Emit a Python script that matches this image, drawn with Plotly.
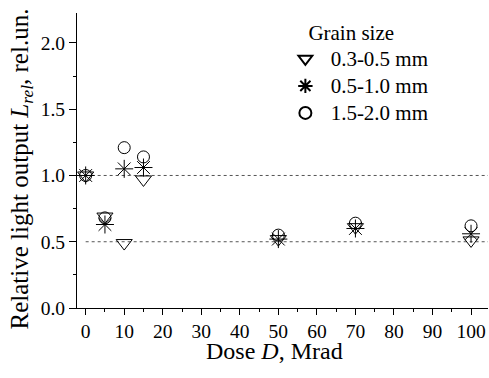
import plotly.graph_objects as go

# Data
dose = [0, 5, 10, 15, 50, 70, 100]
series_names = ["0.3-0.5 mm", "0.5-1.0 mm", "1.5-2.0 mm"]
lrel_03_05 = [1.00, 0.69, 0.49, 0.97, 0.52, 0.61, 0.51]
lrel_05_10 = [1.00, 0.63, 1.05, 1.06, 0.52, 0.60, 0.56]
lrel_15_20 = [1.00, 0.68, 1.21, 1.14, 0.55, 0.64, 0.62]
ref_levels = [1.0, 0.5]
x_ticks = [0, 10, 20, 30, 40, 50, 60, 70, 80, 90, 100]
y_ticks = [0.0, 0.5, 1.0, 1.5, 2.0]

FONT = "Liberation Serif, Times New Roman, serif"

fig = go.Figure()

symbols = ["triangle-down-open", "asterisk-open", "circle-open"]
sizes = [14, 15, 12]
for name, vals, sym, sz in zip(series_names, [lrel_03_05, lrel_05_10, lrel_15_20], symbols, sizes):
    fig.add_trace(go.Scatter(
        x=dose, y=vals, mode="markers",
        name=f'<span style="font-size:21px"> {name}</span>',
        marker=dict(symbol=sym, size=sz, color="black",
                    line=dict(color="black", width=1)),
    ))

for lvl in ref_levels:
    fig.add_shape(type="line", xref="x", yref="y", x0=0, x1=104.4, y0=lvl, y1=lvl,
                  line=dict(color="#555555", width=1, dash="dot"), layer="below")

fig.add_annotation(text="Dose <i>D</i>, Mrad", xref="paper", yref="paper",
                   x=0.4805, y=-0.146, xanchor="center", yanchor="middle", showarrow=False,
                   font=dict(family=FONT, size=24, color="black"))
fig.add_annotation(text="Relative light output <i>L</i><sub><i>rel</i></sub>, rel.un.",
                   xref="paper", yref="paper", x=-0.136, y=0.47, textangle=-90,
                   xanchor="center", yanchor="middle", showarrow=False,
                   font=dict(family=FONT, size=25, color="black"))

fig.update_layout(
    width=489, height=378,
    margin=dict(l=77, r=1, t=13, b=70),
    paper_bgcolor="white", plot_bgcolor="white",
    font=dict(family=FONT, size=18, color="black"),
    showlegend=True,
    legend=dict(
        x=0.507, y=1.0, xanchor="left", yanchor="top",
        bgcolor="rgba(0,0,0,0)", borderwidth=0,
        font=dict(family=FONT, size=18.5, color="black"),
        title=dict(text="    Grain size", font=dict(family=FONT, size=21, color="black"), side="top"),
        itemsizing="constant", tracegroupgap=0,
    ),
    xaxis=dict(
        range=[-2.25, 104.4], showgrid=False, zeroline=False,
        showline=True, linecolor="black", linewidth=1,
        tickmode="array", tickvals=x_ticks, ticktext=[str(t) for t in x_ticks],
        ticks="outside", ticklen=6, tickwidth=1, tickcolor="black",
        minor=dict(dtick=5, tick0=0, ticks="outside", ticklen=3, tickwidth=1, tickcolor="black"),
        tickfont=dict(family=FONT, size=19.5, color="black"),
    ),
    yaxis=dict(
        range=[0, 2.226], showgrid=False, zeroline=False,
        showline=True, linecolor="black", linewidth=1,
        tickmode="array", tickvals=y_ticks, ticktext=[f"{t:.1f}" for t in y_ticks],
        ticks="outside", ticklen=7, tickwidth=1, tickcolor="black",
        minor=dict(dtick=0.25, tick0=0, ticks="outside", ticklen=3, tickwidth=1, tickcolor="black"),
        tickfont=dict(family=FONT, size=19.5, color="black"),
    ),
)

fig.write_html("out.html")
